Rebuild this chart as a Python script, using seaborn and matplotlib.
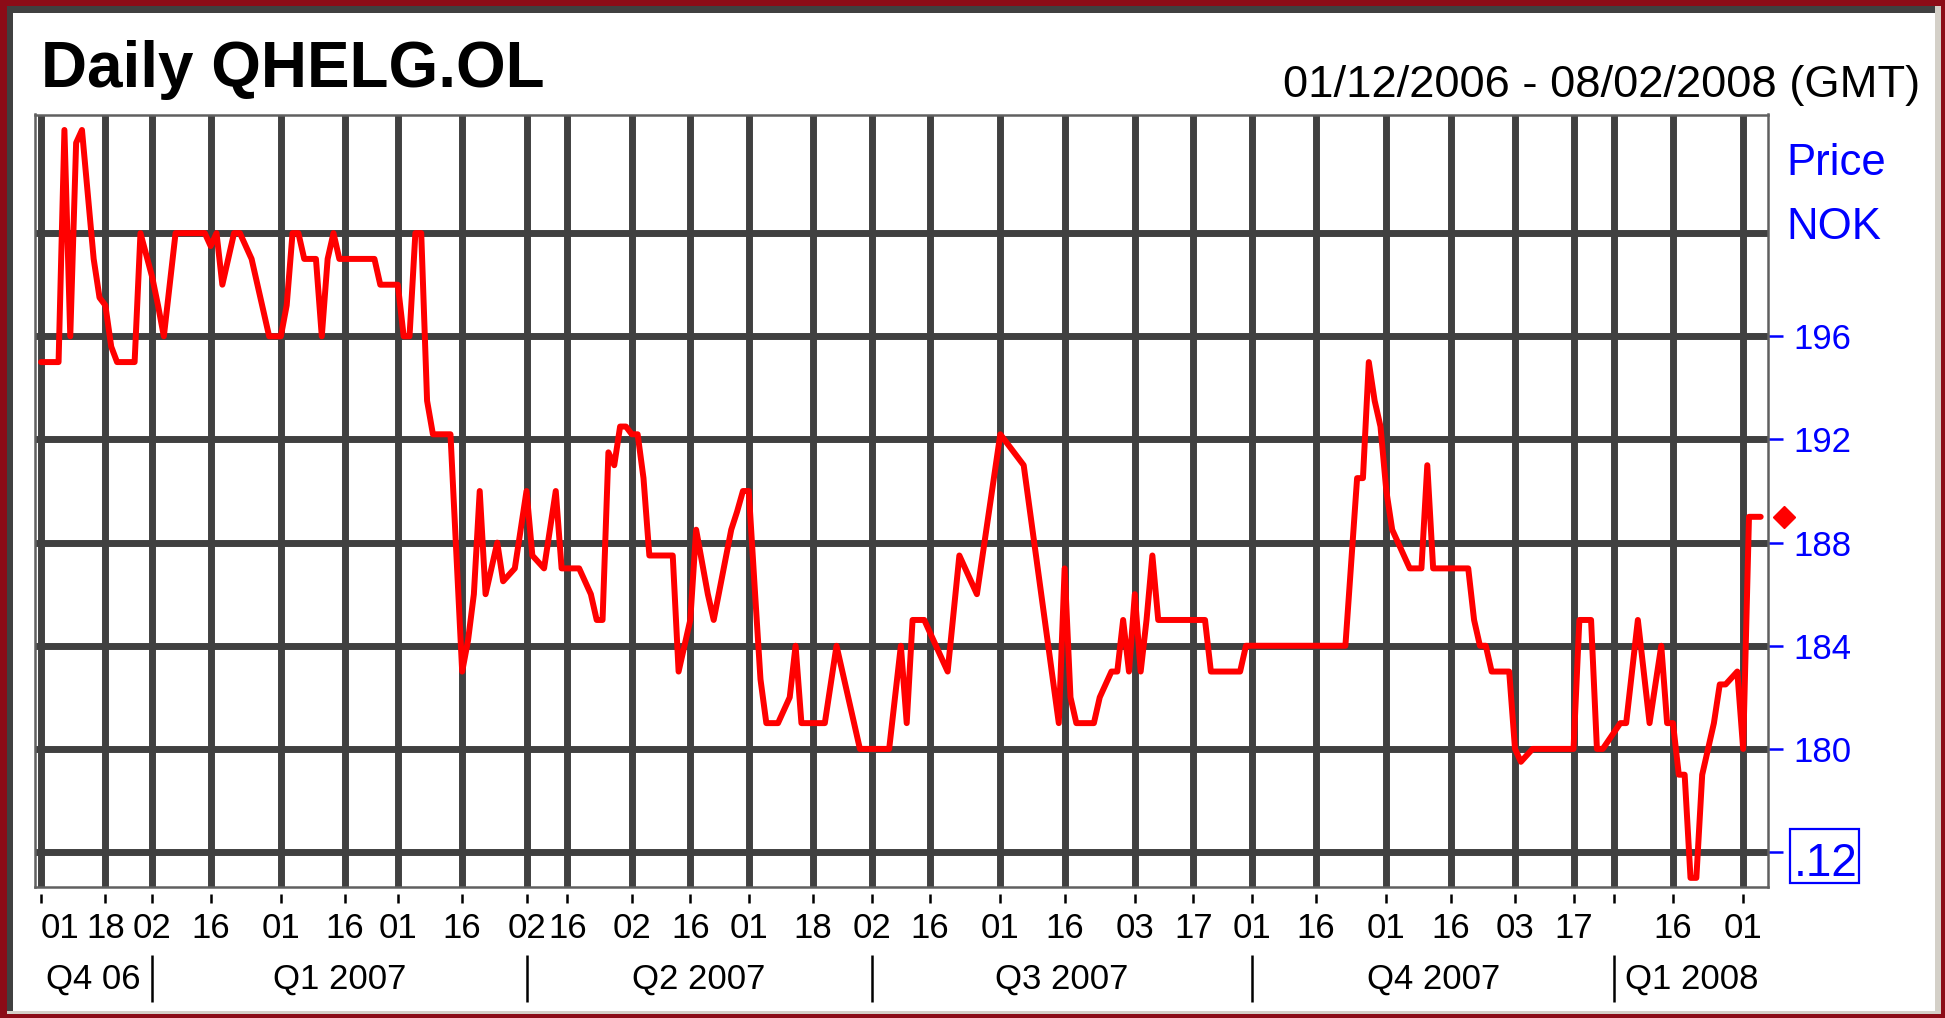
import numpy as np
import pandas as pd
import matplotlib
matplotlib.use("Agg")
import matplotlib.pyplot as plt
from matplotlib.patches import Rectangle
from matplotlib.transforms import blended_transform_factory
import seaborn as sns

# ---------------- data ----------------
dates = [
    "2006-12-01", "2006-12-06", "2006-12-07", "2006-12-08", "2006-12-11", "2006-12-12",
    "2006-12-14", "2006-12-15", "2006-12-18", "2006-12-19", "2006-12-20", "2006-12-27",
    "2006-12-28", "2007-01-02", "2007-01-03", "2007-01-04", "2007-01-08", "2007-01-15",
    "2007-01-16", "2007-01-17", "2007-01-18", "2007-01-22", "2007-01-23", "2007-01-25",
    "2007-01-26", "2007-01-30", "2007-02-01", "2007-02-02", "2007-02-05", "2007-02-06",
    "2007-02-07", "2007-02-09", "2007-02-12", "2007-02-13", "2007-02-14", "2007-02-15",
    "2007-02-23", "2007-02-26", "2007-03-01", "2007-03-02", "2007-03-05", "2007-03-06",
    "2007-03-07", "2007-03-08", "2007-03-09", "2007-03-14", "2007-03-16", "2007-03-19",
    "2007-03-20", "2007-03-21", "2007-03-22", "2007-03-26", "2007-03-27", "2007-03-29",
    "2007-04-02", "2007-04-03", "2007-04-10", "2007-04-12", "2007-04-13", "2007-04-18",
    "2007-04-20", "2007-04-23", "2007-04-24", "2007-04-25", "2007-04-26", "2007-04-27",
    "2007-04-30", "2007-05-02", "2007-05-03", "2007-05-04", "2007-05-07", "2007-05-11",
    "2007-05-14", "2007-05-16", "2007-05-18", "2007-05-22", "2007-05-23", "2007-05-29",
    "2007-05-30", "2007-05-31", "2007-06-01", "2007-06-04", "2007-06-05", "2007-06-06",
    "2007-06-08", "2007-06-12", "2007-06-13", "2007-06-14", "2007-06-20", "2007-06-22",
    "2007-06-26", "2007-06-28", "2007-07-05", "2007-07-09", "2007-07-10", "2007-07-11",
    "2007-07-13", "2007-07-17", "2007-07-19", "2007-07-23", "2007-07-26", "2007-08-01",
    "2007-08-07", "2007-08-15", "2007-08-16", "2007-08-17", "2007-08-20", "2007-08-23",
    "2007-08-24", "2007-08-28", "2007-08-29", "2007-08-30", "2007-08-31", "2007-09-03",
    "2007-09-04", "2007-09-05", "2007-09-06", "2007-09-07", "2007-09-19", "2007-09-20",
    "2007-09-27", "2007-09-28", "2007-10-23", "2007-10-25", "2007-10-26", "2007-10-29",
    "2007-10-30", "2007-10-31", "2007-11-01", "2007-11-02", "2007-11-05", "2007-11-07",
    "2007-11-09", "2007-11-12", "2007-11-13", "2007-11-21", "2007-11-22", "2007-11-23",
    "2007-11-26", "2007-11-27", "2007-11-30", "2007-12-03", "2007-12-04", "2007-12-06",
    "2007-12-17", "2007-12-18", "2007-12-20", "2007-12-21", "2007-12-27", "2008-01-03",
    "2008-01-04", "2008-01-08", "2008-01-10", "2008-01-14", "2008-01-15", "2008-01-16",
    "2008-01-17", "2008-01-18", "2008-01-21", "2008-01-22", "2008-01-23", "2008-01-25",
    "2008-01-28", "2008-01-29", "2008-01-31", "2008-02-01", "2008-02-04", "2008-02-06",
]
prices = [
    195, 195, 204, 196, 203.5, 204,
    199, 197.5, 197.2, 195.6, 195, 195,
    200, 198.3, 197.2, 196, 200, 200,
    199.5, 200, 198, 200, 200, 199,
    198, 196, 196, 197.2, 200, 200,
    199, 199, 196, 199, 200, 199,
    199, 198, 198, 196, 196, 200,
    200, 193.5, 192.2, 192.2, 183, 184.2,
    186, 190, 186, 188, 186.5, 187,
    190, 187.5, 187, 190, 187, 187,
    186, 185, 185, 191.5, 191, 192.5,
    192.5, 192.2, 192.2, 190.5, 187.5, 187.5,
    183, 185, 188.5, 186, 185, 188.5,
    189.2, 190, 190, 186.3, 182.7, 181,
    181, 182, 184, 181, 181, 184,
    182, 180, 180, 184, 181, 185,
    185, 184, 183, 187.5, 186, 192.2,
    191, 181, 187, 182, 181, 181,
    182, 183, 183, 185, 183, 186,
    183, 185, 187.5, 185, 185, 183,
    183, 184, 184, 190.5, 190.5, 195,
    193.5, 192.5, 190, 188.5, 188, 187,
    187, 191, 187, 187, 185, 184,
    184, 183, 183, 180, 179.5, 180,
    180, 185, 185, 180, 180, 181,
    181, 185, 181, 184, 181, 181,
    179, 179, 175, 175, 179, 181,
    182.5, 182.5, 183, 180, 189, 189,
]
holidays = [
    "2006-12-25", "2006-12-26", "2007-01-01", "2007-04-05", "2007-04-06",
    "2007-04-09", "2007-05-01", "2007-05-17", "2007-05-28", "2007-12-24",
    "2007-12-25", "2007-12-26", "2007-12-31", "2008-01-01",
]
first_day, last_day = "2006-12-01", "2008-02-08"
tick_dates = [
    "2006-12-01", "2006-12-18", "2007-01-02", "2007-01-16", "2007-02-01", "2007-02-16",
    "2007-03-01", "2007-03-16", "2007-04-02", "2007-04-16", "2007-05-02", "2007-05-16",
    "2007-06-01", "2007-06-18", "2007-07-02", "2007-07-16", "2007-08-01", "2007-08-16",
    "2007-09-03", "2007-09-17", "2007-10-01", "2007-10-16", "2007-11-01", "2007-11-16",
    "2007-12-03", "2007-12-17", "2008-01-02", "2008-01-16", "2008-02-01",
]
tick_labels = [
    "01", "18", "02", "16", "01", "16", "01", "16", "02", "16", "02", "16",
    "01", "18", "02", "16", "01", "16", "03", "17", "01", "16", "01", "16",
    "03", "17", "", "16", "01",
]
quarter_starts = ["2007-01-02", "2007-04-02", "2007-07-02", "2007-10-01", "2008-01-02"]
quarter_labels = ["Q4 06", "Q1 2007", "Q2 2007", "Q3 2007", "Q4 2007", "Q1 2008"]
y_ticks = [176, 180, 184, 188, 192, 196, 200]
y_labels = ["", "180", "184", "188", "192", "196", ""]
last_label = ".12"
title = "Daily QHELG.OL"
period = "01/12/2006 - 08/02/2008 (GMT)"
unit_lines = ["Price", "NOK"]

# ---------------- style ----------------
sns.set_theme(style="white")
plt.rcParams["font.family"] = ["Liberation Sans", "DejaVu Sans"]

RED_BG = "#8c0c17"
GRID = "#404040"
BLUE = "#0000ff"
LINE_RED = "#ff0000"

W, H = 1945, 1018


def fx(px):
    return px / W


def fy(py):
    return 1 - py / H


# trading-session calendar (Oslo)
sessions = pd.bdate_range(first_day, last_day, freq="C", holidays=holidays)
pos = pd.Series(np.arange(len(sessions)), index=sessions)
df = pd.DataFrame({"date": pd.to_datetime(dates), "price": prices})
df["session"] = pos.loc[df["date"]].values
tick_pos = pos.loc[pd.to_datetime(tick_dates)].values
q_pos = pos.loc[pd.to_datetime(quarter_starts)].values

fig = plt.figure(figsize=(W / 100, H / 100), dpi=100, facecolor=RED_BG)

# sunken white panel (behind the axes)
fig.patches.append(Rectangle((fx(7), fy(1014)), fx(1941 - 7), (1014 - 6) / H,
                             transform=fig.transFigure, facecolor="#d4d0c8", edgecolor="none", zorder=-3))
fig.patches.append(Rectangle((fx(7), fy(1011)), fx(1935 - 7), (1011 - 6) / H,
                             transform=fig.transFigure, facecolor="#404040", edgecolor="none", zorder=-2))
fig.patches.append(Rectangle((fx(13), fy(1011)), fx(1935 - 13), (1011 - 13) / H,
                             transform=fig.transFigure, facecolor="white", edgecolor="none", zorder=-1))

ax_left, ax_right, ax_top, ax_bottom = 35, 1768.3, 114.5, 887.4
ax = fig.add_axes([fx(ax_left), fy(ax_bottom), fx(ax_right - ax_left), (ax_bottom - ax_top) / H])
ax.set_zorder(1)
ax.set_facecolor("white")

sns.lineplot(data=df, x="session", y="price", color=LINE_RED, linewidth=4.3,
             estimator=None, ax=ax, zorder=3)

xlim = (-1.03, 295.3)
ax.set_xlim(*xlim)
ax.set_ylim(174.63, 204.6)
ax.set_xlabel("")
ax.set_ylabel("")

ax.set_xticks(tick_pos)
ax.set_xticklabels(tick_labels)
ax.tick_params(axis="x", length=0, pad=17.5, labelsize=25, labelcolor="black")
ax.get_xticklabels()[0].set_horizontalalignment("left")

ax.yaxis.tick_right()
ax.set_yticks(y_ticks)
ax.set_yticklabels(y_labels)
ax.tick_params(axis="y", which="major", right=True, length=10.8, width=1.8,
               color=BLUE, labelcolor=BLUE, pad=7.2, labelsize=25)
ax.yaxis.get_major_ticks()[-1].tick2line.set_visible(False)

ax.grid(True, color=GRID, linewidth=5, linestyle="-")
ax.set_axisbelow(True)
for sp in ax.spines.values():
    sp.set_visible(True)
    sp.set_color("#606060")
    sp.set_linewidth(1.8)

trans = blended_transform_factory(ax.transData, ax.transAxes)
ax_h = ax_bottom - ax_top
# small tick marks below the frame
ax.vlines(tick_pos, -7 / ax_h, -16 / ax_h, colors="black", linewidth=1.8,
          transform=trans, clip_on=False)
# quarter separators and labels
ax.vlines(q_pos, -(955 - ax_bottom) / ax_h, -(1002 - ax_bottom) / ax_h, colors="black",
          linewidth=1.8, transform=trans, clip_on=False)
bounds = [xlim[0]] + list(q_pos) + [xlim[1]]
for i, lab in enumerate(quarter_labels):
    c = (bounds[i] + bounds[i + 1]) / 2
    ax.text(c, -(988.6 - ax_bottom) / ax_h, lab, transform=trans, ha="center",
            va="baseline", fontsize=25, color="black")

# last price marker outside the frame
ax.plot([1.009], [prices[-1]], marker="D", markersize=11, color=LINE_RED,
        transform=blended_transform_factory(ax.transAxes, ax.transData), clip_on=False)

# boxed last-value label
fig.patches.append(Rectangle((fx(1790), fy(883)), fx(1859 - 1790), (883 - 829) / H,
                             transform=fig.transFigure, facecolor="none", edgecolor=BLUE,
                             linewidth=1.6, zorder=5))
fig.text(fx(1794), fy(876), last_label, color=BLUE, fontsize=33, va="baseline", ha="left")

# headings
fig.text(fx(41), fy(87), title, fontsize=46, fontweight="bold", va="baseline", ha="left",
         color="black")
fig.text(fx(1920), fy(97), period, fontsize=32.7, va="baseline", ha="right", color="black")
fig.text(fx(1786), fy(175), unit_lines[0], fontsize=31.5, color=BLUE, va="baseline", ha="left")
fig.text(fx(1786), fy(239), unit_lines[1], fontsize=31.5, color=BLUE, va="baseline", ha="left")

fig.savefig("out.png", dpi=100, facecolor=RED_BG)
